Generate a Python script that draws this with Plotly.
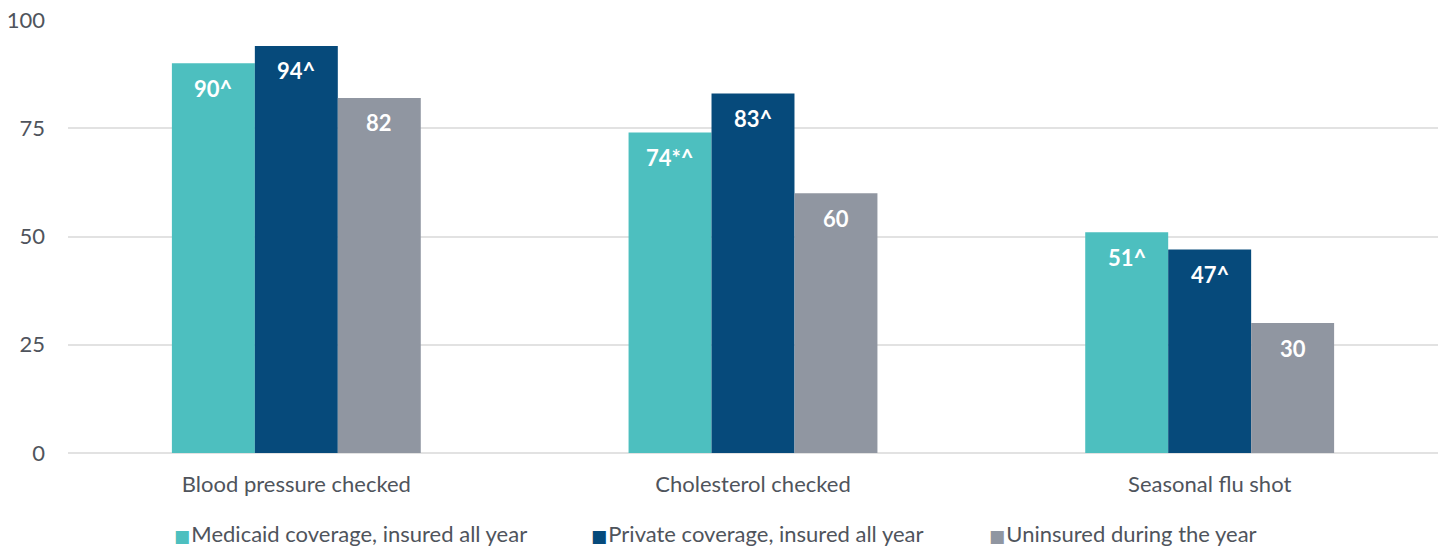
import plotly.graph_objects as go

categories = ["Blood pressure checked", "Cholesterol checked", "Seasonal flu shot"]
series_names = ["Medicaid coverage, insured all year",
                "Private coverage, insured all year",
                "Uninsured during the year"]
medicaid = [90, 74, 51]
private = [94, 83, 47]
uninsured = [82, 60, 30]
medicaid_labels = ["90^", "74*^", "51^"]
private_labels = ["94^", "83^", "47^"]
uninsured_labels = ["82", "60", "30"]
y_ticks = [0, 25, 50, 75, 100]

colors = ["#4dbfbf", "#064a7b", "#9096a1"]
FONT = "Lato"
TXT = "#4f545c"
BARGAP = 0.455

values = [medicaid, private, uninsured]
labels = [medicaid_labels, private_labels, uninsured_labels]

fig = go.Figure()
for name, vals, col in zip(series_names, values, colors):
    fig.add_trace(go.Bar(x=categories, y=vals, name=name, marker=dict(color=col, line=dict(width=0)),
                         hoverinfo="skip"))

annotations = []
n = len(values)
w = (1 - BARGAP) / n
for j, (vals, labs) in enumerate(zip(values, labels)):
    off = (j - (n - 1) / 2) * w
    for i, (v, lab) in enumerate(zip(vals, labs)):
        annotations.append(dict(x=i + off, y=v, xref="x", yref="y", text=f"<b>{lab}</b>",
                                showarrow=False, yanchor="middle", yshift=-25,
                                font=dict(family=FONT, size=22, color="white")))

# legend as text row
leg_x = [172, 589, 987]
for name, col, px in zip(series_names, colors, leg_x):
    annotations.append(dict(x=(px - 68) / 1370, y=-0.187, xref="paper", yref="paper",
                            xanchor="left", yanchor="middle", showarrow=False,
                            text=f"<span style='color:{col};font-size:17px;font-family:DejaVu Sans'>■</span>"
                                 f"<span style='font-size:5px'> </span>{name}",
                            font=dict(family=FONT, size=22, color=TXT)))

fig.update_layout(
    width=1445, height=548,
    margin=dict(l=68, r=7, t=20, b=95),
    paper_bgcolor="white", plot_bgcolor="white",
    barmode="group", bargap=BARGAP, bargroupgap=0,
    showlegend=False,
    font=dict(family=FONT, size=22, color=TXT),
    annotations=annotations,
)
fig.update_xaxes(showgrid=False, showline=False, ticks="", ticklabelstandoff=16,
                 tickfont=dict(family=FONT, size=22, color=TXT))
fig.update_yaxes(range=[0, 100], tickvals=y_ticks, showgrid=True, gridcolor="#e2e2e2", gridwidth=1.5,
                 zeroline=True, zerolinecolor="#e2e2e2", zerolinewidth=1.5, showline=False,
                 ticks="", ticklabelstandoff=22, tickfont=dict(family=FONT, size=22, color=TXT))

fig.write_html("out.html")
